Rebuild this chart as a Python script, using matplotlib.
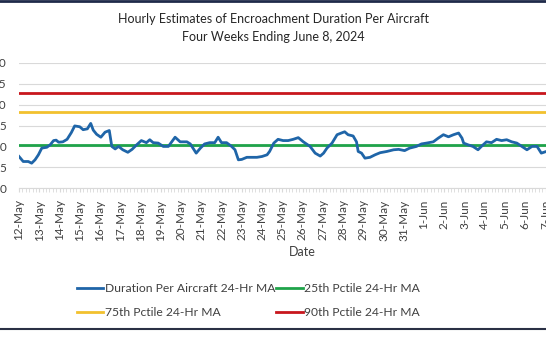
import numpy as np
import pandas as pd
import matplotlib
matplotlib.use("Agg")
import matplotlib.pyplot as plt
import matplotlib.dates as mdates
from matplotlib.lines import Line2D

plt.rcParams['font.family'] = ['Lato', 'DejaVu Sans']

# hours since 12-May-2024 00:00 and 24-hr MA duration
hours = [0, 5, 11, 15, 19, 23, 27, 33, 37, 41, 44, 47, 52, 57, 62, 66, 72, 76, 81, 85,
         88, 92, 97, 102, 107, 110, 114, 118, 123, 129, 134, 139, 145, 151, 155, 159,
         165, 171, 177, 185, 191, 199, 203, 210, 215, 220, 226, 232, 236, 240, 246,
         252, 256, 260, 264, 270, 276, 282, 288, 294, 297, 302, 307, 313, 319, 325,
         331, 337, 345, 351, 357, 361, 365, 371, 377, 382, 386, 390, 396, 400, 402,
         406, 410, 416, 422, 428, 436, 444, 450, 457, 463, 471, 477, 483, 491, 497,
         503, 509, 515, 521, 525, 527, 532, 538, 544, 548, 554, 560, 566, 572, 578,
         584, 590, 596, 602, 608, 614, 619, 625]
duration = [7.6, 6.4, 6.4, 6.0, 6.8, 8.0, 9.6, 9.8, 10.4, 11.4, 11.5, 11.0, 11.1, 11.7,
            13.3, 14.9, 14.7, 14.0, 14.2, 15.5, 13.9, 12.9, 12.2, 13.4, 13.8, 10.0, 9.4,
            10.0, 9.2, 8.6, 9.3, 10.3, 11.4, 10.9, 11.6, 10.9, 10.8, 10.0, 10.0, 12.2,
            11.1, 11.1, 10.6, 8.4, 9.6, 10.6, 10.9, 10.9, 12.2, 10.9, 10.9, 10.0, 9.2,
            6.8, 6.9, 7.4, 7.4, 7.4, 7.6, 8.0, 8.8, 10.8, 11.7, 11.4, 11.4, 11.7, 12.1,
            11.1, 10.0, 8.4, 7.7, 8.4, 9.6, 10.8, 12.8, 13.2, 13.5, 12.8, 12.5, 11.1,
            8.8, 8.4, 7.2, 7.4, 8.0, 8.5, 8.8, 9.2, 9.3, 9.0, 9.6, 10.0, 10.6, 10.8,
            11.1, 12.0, 12.8, 12.3, 12.8, 13.2, 12.0, 10.8, 10.4, 10.0, 9.2, 10.0, 11.1,
            10.9, 11.7, 11.4, 11.6, 11.1, 10.8, 10.0, 9.2, 10.0, 10.0, 8.4, 8.8]
p25 = 10.4
p75 = 18.2
p90 = 22.7

start = pd.Timestamp("2024-05-12")
times = start + pd.to_timedelta(hours, unit="h")
day_ticks = pd.date_range("2024-05-12", "2024-06-07", freq="D")

fig = plt.figure(figsize=(5.46, 3.42), dpi=100)
ax = fig.add_axes([19 / 546, 1 - 188.3 / 342, 567 / 546, 125.6 / 342])

ax.axhline(p90, color="#C8161D", lw=2.0, zorder=3)
ax.axhline(p75, color="#F2C12E", lw=2.0, zorder=3)
ax.axhline(p25, color="#1FA34A", lw=2.0, zorder=3)
ax.plot(times, duration, color="#1F65A8", lw=2.0, zorder=4)

ax.set_xlim(start, start + pd.Timedelta(days=28))
ax.set_ylim(0, 30)
ax.set_yticks(range(0, 31, 5))
ax.grid(axis="y", color="#D9D9D9", lw=0.8)
ax.set_axisbelow(True)
for s in ["top", "right", "left"]:
    ax.spines[s].set_visible(False)
ax.spines["bottom"].set_color("#D9D9D9")

ax.set_xticks(day_ticks)
ax.xaxis.set_major_formatter(mdates.DateFormatter("%-d-%b"))
ax.xaxis.set_minor_locator(mdates.HourLocator(byhour=range(0, 24, 4)))
ax.tick_params(axis="x", which="major", rotation=90, labelsize=8.5, length=3,
               color="#D9D9D9", pad=5, labelcolor="#404040")
ax.tick_params(axis="x", which="minor", length=3, color="#D9D9D9")
ax.tick_params(axis="y", length=0, pad=9, labelsize=8.5, labelcolor="#404040")
for lbl in ax.get_xticklabels():
    lbl.set_va("top")

ax.set_xlabel("Date", fontsize=9, color="#404040", labelpad=4)

fig.text(0.5, 1 - 19 / 342, "Hourly Estimates of Encroachment Duration Per Aircraft",
         ha="center", va="center", fontsize=9, color="#262626")
fig.text(0.5, 1 - 37 / 342, "Four Weeks Ending June 8, 2024",
         ha="center", va="center", fontsize=9, color="#262626")

# legend fills column-first: order so rows read Duration | 25th, 75th | 90th
handles = [
    Line2D([], [], color="#1F65A8", lw=2),
    Line2D([], [], color="#F2C12E", lw=2),
    Line2D([], [], color="#1FA34A", lw=2),
    Line2D([], [], color="#C8161D", lw=2),
]
labels = ["Duration Per Aircraft 24-Hr MA", "75th Pctile 24-Hr MA",
          "25th Pctile 24-Hr MA", "90th Pctile 24-Hr MA"]
fig.legend(handles, labels, loc="upper left", bbox_to_anchor=(66 / 546, 1 - 272 / 342),
           ncol=2, frameon=False, fontsize=8.7, handlelength=2.2, handletextpad=0.1,
           columnspacing=0.1, labelcolor="#404040", labelspacing=1.1)

fig.add_artist(Line2D([0, 1], [1 - 1 / 342, 1 - 1 / 342], color="#1F2A4A", lw=2,
                      transform=fig.transFigure))
fig.add_artist(Line2D([0, 1], [1 - 329 / 342, 1 - 329 / 342], color="#2A3045", lw=1.5,
                      transform=fig.transFigure))

fig.savefig("out.png", dpi=100)
